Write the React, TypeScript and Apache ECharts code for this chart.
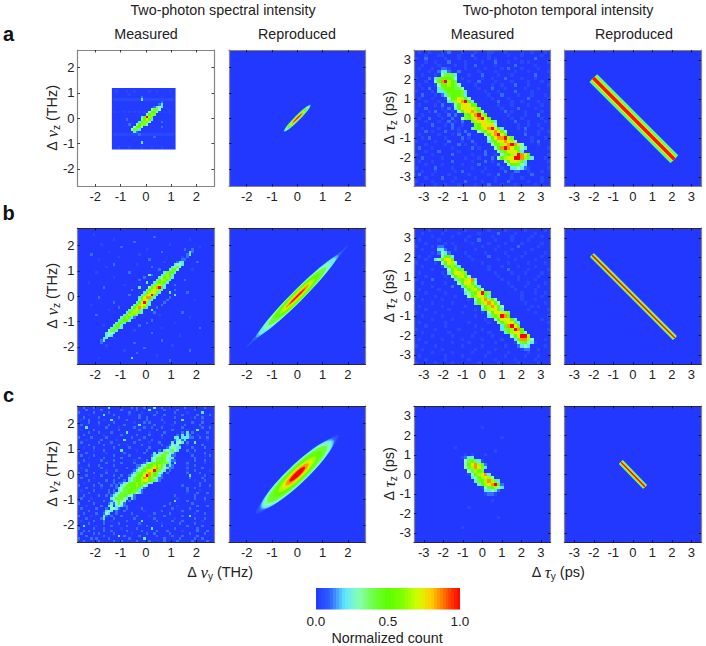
import { useEffect, useRef } from "react";
import * as echarts from "echarts";

type Run = [number, number, string];

// colour scale of the figure, evenly spaced from 0 to 1
const jetColors = ["#2238ff", "#2f62ff", "#5fe8ff", "#86ffb0", "#6fff40", "#5cff00", "#80ff00", "#d0ff00", "#ffd000", "#ff6000", "#ff0000"];
// what each digit in the rows below stands for
const levelValues = [0.04, 0.11, 0.2, 0.3, 0.42, 0.52, 0.64, 0.74, 0.85, 1];
const backgroundValue = 0.01;

const specTicks = [-2, -1, 0, 1, 2];
const tempTicks = [-3, -2, -1, 0, 1, 2, 3];
const specRange = 2.7;
const tempRange = 3.5;
const specStep = 0.1;
const tempStep = 0.17;

const colorbarLevels = [0.01, 0.03, 0.05, 0.07, 0.09, 0.11, 0.13, 0.15, 0.17, 0.19, 0.21, 0.23, 0.25, 0.27, 0.29, 0.31, 0.33, 0.35, 0.37, 0.39, 0.41, 0.43, 0.45, 0.47, 0.49, 0.51, 0.53, 0.55, 0.57, 0.59, 0.61, 0.63, 0.65, 0.67, 0.69, 0.71, 0.73, 0.75, 0.77, 0.79, 0.81, 0.83, 0.85, 0.87, 0.89, 0.91, 0.93, 0.95, 0.97, 0.99];
const colorbarTicks = [0, 0.5, 1];

// patch of the first measured panel: y0, z0, y1, z1
const patchA = [-1.34, -1.24, 1.18, 1.2];

// measured spectra, [row, first column, digits], '.' leaves the background
const measuredSpecA: Run[] = [
  [16, 15, "0...0..0.....0..0....0"], [19, 14, "000000000000000000000000"], [24, 14, "0.0.0.0.0.0.0.0.0.0.0.0"],
  [33, 14, "000000000000000000000000"], [38, 14, "..0...0....0...0...0...."], [17, 20, "0"],
  [19, 25, "2"], [18, 25, "1"], [20, 33, "1"], [21, 33, "2"], [30, 33, "1"], [28, 33, "1"], [36, 25, "2"], [29, 20, "1"], [27, 19, "1"], [33, 24, "1"], [34, 30, "1"],
  [21, 32, "1"], [22, 30, "1232"], [23, 29, "3443"], [24, 28, "3553"], [25, 27, "3564"], [26, 25, "25964"],
  [27, 25, "35752"], [28, 24, "25653"], [29, 23, "35643"], [30, 22, "3553"], [31, 21, "3442"], [32, 22, "21"],
];

const measuredSpecB: Run[] = [
  [2, 6, "0"], [3, 30, "1"], [4, 14, "0"], [4, 44, "0"], [5, 22, "1"], [6, 9, "0"], [6, 36, "0"], [7, 17, "1"], [7, 48, "0"], [8, 27, "0"], [8, 42, "1"],
  [9, 12, "0"], [9, 33, "1"], [10, 5, "1"], [10, 24, "0"], [11, 41, "0"], [11, 16, "0"], [12, 28, "1"], [12, 8, "0"], [13, 34, "0"], [13, 47, "1"],
  [14, 23, "0"], [14, 14, "1"], [15, 11, "0"], [15, 29, "1"], [16, 45, "0"], [16, 32, "1"], [17, 7, "0"], [17, 20, "1"], [18, 28, "2"], [18, 29, "1"],
  [19, 14, "0"], [19, 26, "1"], [20, 24, "1"], [20, 42, "1"], [21, 4, "0"], [21, 27, "2"], [22, 18, "0"], [22, 38, "1"], [23, 10, "1"], [23, 24, "2"],
  [24, 21, "1"], [24, 38, "1"], [25, 43, "1"], [25, 36, "2"], [26, 20, "1"], [26, 38, "2"], [27, 8, "1"], [27, 36, "1"], [28, 35, "1"], [28, 46, "0"],
  [29, 14, "1"], [29, 34, "1"], [30, 5, "0"], [30, 33, "1"], [31, 16, "1"], [31, 31, "1"], [32, 12, "0"], [32, 29, "2"], [33, 30, "1"], [33, 41, "1"],
  [34, 7, "1"], [34, 32, "0"], [35, 44, "0"], [35, 22, "1"], [36, 17, "0"], [36, 29, "1"], [37, 27, "1"], [37, 38, "0"], [38, 10, "0"], [38, 24, "1"],
  [39, 33, "0"], [39, 48, "1"], [40, 22, "0"], [41, 29, "1"], [42, 40, "0"], [43, 14, "0"], [44, 33, "1"], [45, 22, "1"], [46, 11, "0"], [46, 37, "0"],
  [47, 26, "1"], [48, 18, "0"], [48, 44, "1"], [49, 23, "1"], [50, 31, "0"], [51, 21, "2"], [51, 8, "0"], [52, 36, "1"],
  [8, 45, "1"], [9, 44, "21"], [10, 43, "12"], [11, 43, "1"], [12, 41, "11"], [13, 39, "122"], [14, 38, "2332"],
  [15, 37, "2343"], [16, 36, "2453"], [17, 34, "24552"], [18, 33, "24652"], [19, 32, "235652"], [20, 31, "256652"], [21, 30, "245652"],
  [22, 29, "246742"], [23, 28, "3568952"], [24, 27, "2567642"], [25, 26, "2567742"], [26, 25, "2467952"], [27, 24, "2578842"],
  [28, 24, "357742"], [29, 23, "257962"], [30, 22, "2567742"], [31, 21, "3568752"], [32, 20, "246742"], [33, 19, "2566642"],
  [34, 18, "256652"], [35, 17, "25652"], [36, 16, "24552"], [37, 15, "2552"], [38, 14, "2552"], [39, 13, "24542"], [40, 12, "3442"],
  [41, 11, "2332"], [42, 11, "232"], [43, 10, "22"], [44, 9, "12"], [45, 9, "1"],
];

const noiseSpecC = [
  "..1...1.....2....0...1.1..1...2..1..0.....1...0...1..",
  "...1.....1.......1.....1....2.....1....1......1......",
  "1.....1.....1.......1....0.....1......1....0.....2...",
  "....0.....2...1.....0...1.....1...1......1.....1....1",
  "..1.....1.......1.......1..1.....0....1.......1..1...",
  ".0..1.....0..2.....1.......1.....1.......2.......0...",
  "....1...1.....1.......0...1.1.....0...1......1...1...",
  ".1......0...1.....1.....2.....1......0....1.....1....",
  "...2.......1....0.....1...1..1...1.......1.......1..1",
  ".0....1.........1.......1......1.....1.....0...2.....",
  "....1...1....1.....2........0.....1..........1.....1.",
  "..1.......0......1.....1....1....1.......1.....0.....",
  "1....1.....1.........1....1......0...........1..1..1.",
  "...0.....1.....0..2.....1....1........0...1........0.",
  ".1......1....1........1.....0...1..........1..2......",
  "....1.....1.....1..0.....1.......1.........0.....1...",
  "..0...1.......1.....1.......1................1....1..",
  "1.....0...1......2.....0...1...............1..1......",
  "...1.......0......1.......1.................0.....1..",
  ".1....1.......1.....1........1...............1....0.1",
  "....0.....1......1......1.....................1......",
  "..1......1....1.......0.......................1...1..",
  "1...0......1.....1....1....................1......0..",
  "....1...1.....1........1...................0..1......",
  ".0.......1.........1.......................1.....1...",
  "...1.......0...1...........................0..1.....0",
  "1.....1....1...............................1....1....",
  "...1.....1....1..1..........................2.....1..",
  ".1....0.........1...........................1....1...",
  "....1......1..1...............................0...1..",
  "..0.....1.....1.................................1....",
  "1.....1..1...1...........................1......1...1",
  "...1.....0.................................1..1......",
  ".0....1.....1..............................1....0....",
  "....1.......1..............................0...1...1.",
  "..1.....1..1..........................1.......1......",
  ".1...0.......1.........................0......1...1..",
  "....1.....1...........................2....1......0..",
  "1.....1.......1.....................1........1.......",
  "...0.....1.........1..............1....0.......1...1.",
  ".1.....1...........1.....1...........1......1........",
  "....1.....0.......1.......0......1.......1.....1.....",
  "..1....1.......1.....1........1.....1.........0...1..",
  "1....0.....1.....1.....1....0.....1......1..2........",
  "...1.....1....1.......1.......1.......0.......1...1..",
  ".0....1......0.....1.....2.....1.....1...1.......0...",
  "....1.....1.....1.......1........0......1.....1......",
  "..2....0.....1.....1.......1.....1.........1.....1...",
  "1.....1...1......0.....1.....2........1........1.....",
  "..1.1.....1..1.....1.....1.....1...1.....0.....1...1.",
  ".1....1.1.....1......0.....1..1.....1.......1.....1..",
  "...1......1.....2.1.....1......1.....1...1.....1.....",
  "1....1.1....1.......1.....2.......1.....1.....1..1...",
  "..1.....1.....1..1.....1....1.....1....1.....1.....1.",
];

const measuredSpecC: Run[] = [
  [10, 41, "1.2.1"], [11, 39, "1.2.21"], [12, 38, "22.2221"], [13, 38, "12312"], [14, 37, "2.332"], [15, 36, "13231"],
  [16, 35, "123322"], [17, 32, "1.232432"], [18, 30, "2.2344321"], [19, 29, "1233443311"], [20, 29, "234454322"],
  [21, 27, "1.2344543211"], [22, 26, "12344554442.2"], [23, 24, "12345565643121"], [24, 23, "123455678643211"], [25, 22, "1234567795432.1"],
  [26, 21, "1244567865432.1"], [27, 20, "12345579865421"], [28, 20, "23455687543211"], [29, 18, "1.2345567754421"], [30, 16, "11234556565432"],
  [31, 15, "1.23454565432"], [32, 15, "123454554421"], [33, 14, "1.2344554421"], [34, 14, "123444544321"], [35, 13, "1234454331"],
  [36, 13, "2344432.21"], [37, 13, "123433.1"], [38, 12, "12.3431"], [39, 12, "23.2321"], [40, 11, "1.3321"], [41, 11, "232.1"],
  [42, 10, "132"], [43, 10, "21.1"], [44, 10, "2"], [45, 10, "1"],
];

// measured delays
const noiseTempA = [
  ".0..0...0.1...0...0...00...0....0..0...0.", "...0...00....0...1....0.....0...0.....0..", "0..1.....0...0....0...0.0.....0.....1....",
  "...0..0...1....0....0...1...0...0.0.....0", "..0....0....0..0..1.....0.....1.....0....", ".0...0....0....0.....0....0.1...0....0...",
  "....0.....0..1.....0....0.....0...0.....0", "..0...0.........0...1....0...0......1....", "0...1.........0.....0..0...1....0...0....",
  "...0............0..1....0....0....0...0..", ".0....0...........0....0..0...1...0.....0", "..0.1..............0...1...0.....0...0...",
  "0....0...............0...0....1....0.....", "..1...0.1.............0...1....0...0...0.", ".0...0...0.............0....0.....1.....0",
  "...0...0..1..............1...0..0....0...", ".0....0.1..0.............0...0....0...0..", "...1....0.1...............0....1....0....",
  "0...0.1..0.0...............1.0...0....0..", "..0....0..1.1...............0....0...1...", ".0..1...0..1.................0..0.....0..",
  "...0...0..1.0.1...............1...0....0.", "0....1...0.1..0................0..0..0...", "..0....0...1.0.................0.1....0..",
  "...1.0...1...0.1.................0...0..0", ".0.....0...0.1..1................1...0...", "..0.1....0....1.0..................0...0.",
  "0.....0...1...0..1.................0.1...", "...0.....0...1.0..0..................0...", ".1...0.....0.....1.0....................0",
  "...0...1.....0.......1...................", "0....0.....1.....0...1..0...............0", "..1.....0......0...0...1...............0.",
  ".0...0.....1.....0...1.0................0.", "...0....0.....0....1.....1...............", "0.....1....0.....0...0....0.......0.....0",
  "..0...0.....0.1.....0......1......0...0..", ".1...0....0.....0.....0..1...0.....1.....", "...0....1...0.....0.....0....0..0.....0..",
  "0....0.....0...1....0...0...1.....0...0..", "..0...0..0...0....0...1...0...0.....0....",
];
const measuredTempA: Run[] = [
  [5, 8, "11"], [6, 7, "1221"], [7, 8, "34442"], [8, 6, "2455543"], [9, 6, "3589654"], [10, 7, "3556543"], [11, 7, "24555443"], [12, 7, "224555542"],
  [13, 9, "2455542"], [14, 10, "3557653"], [15, 10, "24678952"], [16, 12, "3577755"], [17, 12, "25777764"], [18, 13, "35778653"],
  [19, 15, "4578965"], [20, 14, "345678975"], [21, 17, "46777642"], [22, 18, "4577773"], [23, 17, "2456789752"], [24, 19, "345778753"],
  [25, 21, "3578975"], [26, 22, "35788964"], [27, 22, "245778763"], [28, 23, "3456789873"], [29, 24, "3589875432"], [30, 25, "34577752"],
  [31, 26, "345679875"], [32, 25, "35677998642"], [33, 27, "3577642"], [34, 28, "355432"], [35, 29, "22321"], [36, 30, "11"],
];

const noiseTempB = [
  "....0....0.....0......0....0.....0.....0.", "..0.....0....0.....0.....1....0.....0....", ".....0.....0....0......0.....0.....0..0..",
  ".0.....0.......0...1....0....0....0......", "...0.....0.0.....0....0....0....0.....0..", "0....0......0.......0....0.....1.....0...",
  "..0.........0.....0.....0....0.....0.....", ".....0.........0.....0.....0.....0.....0.", ".0..0...........0.....1.....0...0.....0..",
  "...0......0......0.......0....0.....0....", "0.....0.............0.......0.....0....0.", "..0.....0.............0...0....0....0....",
  ".....0......0.........0.....1.....0.....0", ".0......0...............0....0...0....0..", "...0.....0...0...........0.....0.....0...",
  "0....1.......0............0....0....0....", "..0......0.....0............0.....0....0.", ".....0.....1.....0...........0...0...0...",
  ".0.....0......0...............0.....0....", "...0.....0.......0..............0...0..0.", "0.....0.....0.....0.............0.....0..",
  "..0.....0.......0...............0...0....", ".....0.....0.......0.............0.....0.", ".0......0......0.....0.............0.0...",
  "...0......0.......0...............0.....0", "0.....0.......0.....0...............0....", "..0.....0.........0.....................0",
  ".....0.....0.........0................0..", ".0.......0......0.....0.................0", "...0.....0........0.......0..............",
  "0.....0......0......0.....0.............0", "..0.......0.......0...0...................", ".....0.....0.....0.....0.................",
  ".0......0.....0.....0.....0............0.", "...0.......0....0.......0.....0.....0....", "0.....0.......0.....0......0......0....0.",
  "..0.....0.........0.....0.......0....0...", ".....0.....0.....0....0.....0.....0......", ".0.......0....0......0.....0.....0...0...",
  "...0.....0......0.......0.....0.....0....", "0.....0....0.......0.....0.....0.....0...",
];
const measuredTempB: Run[] = [
  [5, 7, "11"], [6, 7, "221"], [7, 7, "1321"], [8, 8, "3552"], [9, 6, "235775"], [10, 8, "35763"], [11, 9, "25652"], [12, 10, "35654"],
  [13, 10, "257764"], [14, 11, "356753"], [15, 12, "2456782"], [16, 13, "357753"], [17, 14, "256652"], [18, 15, "356753"], [19, 15, "23457954"],
  [20, 16, "3567752"], [21, 18, "3578653"], [22, 18, "25678753"], [23, 20, "3568753"], [24, 20, "2567752"], [25, 22, "3577764"], [26, 22, "2456985"],
  [27, 24, "3577752"], [28, 25, "3567752"], [29, 26, "258975"], [30, 26, "2456985"], [31, 27, "2567753"], [32, 29, "357996"], [33, 30, "258863"],
  [34, 31, "34532"], [35, 31, "1232"], [36, 33, "11"],
];

const measuredTempC: Run[] = [
  [6, 20, "0"], [9, 26, "0"], [12, 12, "0"], [13, 24, "0"], [14, 15, "0.0"], [14, 21, "0"], [15, 14, "0122"], [16, 15, "345420"], [17, 15, "3578651"], [18, 15, "3468742"],
  [19, 16, "34654"], [20, 16, "0356782"], [21, 17, "2356763"], [22, 18, "24568642"], [23, 19, "25678951"], [24, 20, "0345632"], [25, 21, "22321"], [26, 21, "0110"],
  [28, 23, "0"], [30, 16, "0"], [33, 25, "0"], [36, 14, "0"],
];

// reproduced spectra, contours of constant count: value, half length, half width
const contoursA = [
  [0.12, 0.76, 0.11], [0.22, 0.72, 0.095], [0.32, 0.66, 0.085], [0.45, 0.58, 0.07], [0.55, 0.5, 0.06],
  [0.68, 0.42, 0.05], [0.78, 0.36, 0.04], [0.88, 0.3, 0.028], [1, 0.24, 0.016],
];
const contoursB = [
  [0.06, 2.85, 0.09], [0.1, 2.5, 0.15], [0.16, 2.3, 0.2], [0.22, 2.15, 0.225], [0.3, 1.85, 0.22], [0.42, 1.6, 0.2], [0.52, 1.25, 0.165],
  [0.64, 0.98, 0.125], [0.74, 0.82, 0.095], [0.85, 0.65, 0.06], [1, 0.45, 0.03],
];
const contoursC = [
  [0.05, 2.25, 0.28], [0.1, 2.08, 0.34], [0.16, 1.97, 0.37], [0.22, 1.9, 0.365], [0.3, 1.78, 0.345], [0.42, 1.6, 0.31], [0.52, 1.3, 0.255],
  [0.64, 1.0, 0.21], [0.74, 0.82, 0.175], [0.85, 0.62, 0.135], [1, 0.42, 0.095],
];
const contourAngles = [45, 45, 43.5];

// reproduced delays, two ends of the straight ridge
const ridgeA = [[-2.02, 2.06], [2.13, -2.1]];
const ridgeB = [[-2.09, 2.11], [2.16, -2.14]];
const ridgeC = [[-0.61, 0.63], [0.63, -0.65]];

const toCells = (runs: Run[], step: number, bins: number) => {
  const half = ((bins - 1) / 2) * step;
  const cells: number[][] = [];
  runs.forEach(([row, col, digits]) => {
    digits.split("").forEach((d, i) => {
      if (d === ".") return;
      cells.push([-half + (col + i) * step, half - row * step, levelValues[Number(d)]]);
    });
  });
  return cells;
};

const cols = [77.5, 229, 414, 564.5];
const rows = [50, 228, 406];
const boxSize = 136.5;
const boxGray = "#858585";
const boxDark = "#2a2a2a";
const labelFont = '"Liberation Sans", Arial, sans-serif';
const symbolFont = '"Liberation Serif", serif';

const cellRender = (halfX: number, halfY: number) => (_: any, api: any) => {
  const a = api.coord([api.value(0) - halfX, api.value(1) + halfY]);
  const b = api.coord([api.value(0) + halfX, api.value(1) - halfY]);
  const x = Math.round(a[0]);
  const y = Math.round(a[1]);
  return {
    type: "rect",
    shape: { x, y, width: Math.round(b[0]) - x, height: Math.round(b[1]) - y },
    style: { fill: api.visual("color") },
  };
};

const patchRender = (_: any, api: any) => {
  const a = api.coord([api.value(0), api.value(4)]);
  const b = api.coord([api.value(3), api.value(1)]);
  return {
    type: "rect",
    shape: { x: a[0], y: a[1], width: b[0] - a[0], height: b[1] - a[1] },
    style: { fill: api.visual("color") },
  };
};

const ellipseRender = (_: any, api: any) => {
  const p = api.coord([api.value(0), api.value(1)]);
  const size = api.size([api.value(3), api.value(4)]);
  return {
    type: "ellipse",
    x: p[0],
    y: p[1],
    rotation: (api.value(5) * Math.PI) / 180,
    shape: { cx: 0, cy: 0, rx: size[0], ry: size[1] },
    style: { fill: api.visual("color") },
  };
};

const axisLabel = (values: number[], show: boolean) => ({
  show,
  customValues: values,
  margin: 3,
  fontSize: 13,
  color: "#222",
  fontFamily: labelFont,
  hideOverlap: false,
  showMinLabel: true,
  showMaxLabel: true,
});

const subscriptRich = {
  n: { fontFamily: symbolFont, fontStyle: "italic", fontSize: 17, lineHeight: 18, fill: "#222" },
  s: { fontFamily: labelFont, fontSize: 10, lineHeight: 18, verticalAlign: "bottom", fill: "#222" },
  t: { fontFamily: labelFont, fontSize: 14.5, lineHeight: 18, fill: "#222" },
};

const buildOption = () => {
  const grid: any[] = [];
  const xAxis: any[] = [];
  const yAxis: any[] = [];
  const series: any[] = [];
  const mapped: number[] = [];

  const addCustom = (s: any) => {
    mapped.push(series.length);
    series.push({ type: "custom", clip: true, silent: true, encode: { x: 0, y: 1 }, ...s });
  };

  const measured = [
    [measuredSpecA, [] as Run[], measuredTempA, noiseTempA],
    [measuredSpecB, [] as Run[], measuredTempB, noiseTempB],
    [measuredSpecC, noiseSpecC.map((r, i) => [i, 0, r] as Run), measuredTempC, [] as string[]],
  ] as const;
  const contours = [contoursA, contoursB, contoursC];
  const ridges = [ridgeA, ridgeB, ridgeC];
  const ridgeWidths = [[11, 9, 5.5, 3.6], [5.6, 4.4, 2.6, 1.6], [5.6, 4.4, 2.6, 1.6]];
  const ridgeColors = ["#66f0d0", "#6fff30", "#d8ff00", "#ff1000"];

  rows.forEach((top, r) => {
    cols.forEach((left, c) => {
      const i = grid.length;
      const spectral = c < 2;
      const range = spectral ? specRange : tempRange;
      const ticks = spectral ? specTicks : tempTicks;
      const blank = r === 0 && c === 0;
      grid.push({
        left,
        top,
        width: boxSize,
        height: boxSize,
        show: true,
        borderWidth: 0,
        backgroundColor: blank ? "#fff" : jetColors[0],
      });
      const horiz = r === 0 ? boxGray : boxDark;
      ["bottom", "top"].forEach((position, k) => {
        xAxis.push({
          gridIndex: i,
          type: "value",
          position,
          min: -range,
          max: range,
          z: 5,
          axisLine: { show: true, onZero: false, lineStyle: { color: horiz, width: 1.2 } },
          axisTick: { show: true, inside: true, length: 2.5, customValues: ticks, lineStyle: { color: "#111", width: 0.8 } },
          axisLabel: axisLabel(ticks, k === 0),
          splitLine: { show: false },
        });
      });
      ["left", "right"].forEach((position, k) => {
        yAxis.push({
          gridIndex: i,
          type: "value",
          position,
          min: -range,
          max: range,
          z: 5,
          axisLine: { show: true, onZero: false, lineStyle: { color: boxGray, width: 1.2 } },
          axisTick: { show: true, inside: true, length: 2.5, customValues: ticks, lineStyle: { color: "#111", width: 0.8 } },
          axisLabel: axisLabel(ticks, k === 0 && c % 2 === 0),
          splitLine: { show: false },
        });
      });
      const base = { xAxisIndex: i * 2, yAxisIndex: i * 2 };
      if (c === 0) {
        if (blank) {
          addCustom({
            ...base,
            renderItem: patchRender,
            data: [[patchA[0], patchA[1], backgroundValue, patchA[2], patchA[3]]],
          });
        }
        const [runs, noise] = measured[r];
        addCustom({
          ...base,
          renderItem: cellRender(specStep / 2, specStep / 2),
          data: toCells([...noise, ...runs], specStep, 54),
        });
      } else if (c === 1) {
        addCustom({
          ...base,
          renderItem: ellipseRender,
          data: contours[r].map(([v, a, b]) => [0, 0, v, a, b, contourAngles[r]]),
        });
      } else if (c === 2) {
        const runs = measured[r][2];
        const noise = (measured[r][3] as readonly string[]).map((n, k) => [k, 0, n] as Run);
        addCustom({
          ...base,
          renderItem: cellRender(tempStep / 2, tempStep / 2),
          data: toCells([...noise, ...runs], tempStep, 41),
        });
      } else {
        ridgeColors.forEach((color, k) => {
          series.push({
            type: "line",
            ...base,
            silent: true,
            showSymbol: false,
            data: ridges[r],
            lineStyle: { color, width: ridgeWidths[r][k], cap: "butt" },
          });
        });
      }
    });
  });

  // colour bar
  const barIndex = grid.length;
  grid.push({ left: 316, top: 587.5, width: 144, height: 22, show: false });
  xAxis.push({
    gridIndex: barIndex,
    type: "value",
    min: 0,
    max: 1,
    axisLine: { show: false },
    axisTick: { show: false },
    splitLine: { show: false },
    axisLabel: {
      ...axisLabel(colorbarTicks, true),
      margin: 5,
      fontSize: 13.5,
      formatter: (v: number) => v.toFixed(1),
    },
  });
  yAxis.push({ gridIndex: barIndex, type: "value", min: 0, max: 1, show: false });
  addCustom({
    xAxisIndex: xAxis.length - 1,
    yAxisIndex: yAxis.length - 1,
    renderItem: cellRender(0.01, 0.5),
    data: colorbarLevels.map((v) => [v, 0.5, v]),
  });

  const text = (t: string, x: number, y: number, extra: any = {}) => ({
    type: "text",
    x,
    y,
    silent: true,
    style: {
      text: t,
      fill: "#222",
      font: `14.3px ${labelFont}`,
      align: "center",
      verticalAlign: "middle",
      ...extra,
    },
  });
  const nuZ = "Δ {n|ν}{s|z} {t|(THz)}";
  const tauZ = "Δ {n|τ}{s|z} {t|(ps)}";
  const graphic: any[] = [
    text("Two-photon spectral intensity", 223, 10),
    text("Two-photon temporal intensity", 558, 10),
    text("Measured", 146, 33.5),
    text("Reproduced", 297, 33.5),
    text("Measured", 482.5, 33.5),
    text("Reproduced", 634, 33.5),
    text("a", 8.5, 34, { font: `bold 20px ${labelFont}`, fill: "#111" }),
    text("b", 8.5, 213, { font: `bold 20px ${labelFont}`, fill: "#111" }),
    text("c", 8.5, 395, { font: `bold 20px ${labelFont}`, fill: "#111" }),
    text("Normalized count", 387, 638),
  ];
  const centers = [118, 296, 474];
  centers.forEach((cy) => {
    graphic.push({
      ...text(nuZ, 0, 0, { rich: subscriptRich }),
      x: 52,
      y: cy,
      rotation: Math.PI / 2,
    });
    graphic.push({
      ...text(tauZ, 0, 0, { rich: subscriptRich }),
      x: 389,
      y: cy,
      rotation: Math.PI / 2,
    });
  });
  graphic.push(text("Δ {n|ν}{s|y} {t|(THz)}", 220, 572, { rich: subscriptRich }));
  graphic.push(text("Δ {n|τ}{s|y} {t|(ps)}", 558, 572, { rich: subscriptRich }));

  return {
    animation: false,
    backgroundColor: "#fff",
    textStyle: { fontFamily: labelFont },
    grid,
    xAxis,
    yAxis,
    visualMap: {
      show: false,
      type: "continuous",
      min: 0,
      max: 1,
      dimension: 2,
      seriesIndex: mapped,
      inRange: { color: jetColors },
    },
    graphic,
    series,
  };
};

export default function App() {
  const ref = useRef<HTMLDivElement>(null);

  useEffect(() => {
    if (!ref.current) return;
    const chart = echarts.init(ref.current, null, { renderer: "svg" });
    chart.setOption(buildOption() as any);
    return () => chart.dispose();
  }, []);

  return <div ref={ref} style={{ position: "fixed", left: 0, top: 0, width: 706, height: 646 }} />;
}
